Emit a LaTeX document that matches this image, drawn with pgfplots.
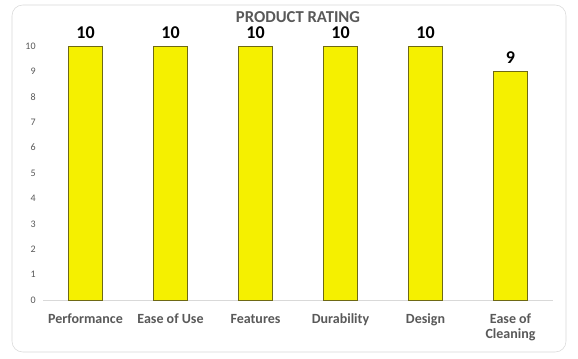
\documentclass[border=0pt]{standalone}
\usepackage{pgfplots}
\pgfplotsset{compat=1.18}
\usepackage{fontspec}
\setmainfont{Carlito}
\definecolor{barfill}{RGB}{245,240,0}
\definecolor{baredge}{RGB}{110,105,20}
\definecolor{txtgray}{RGB}{89,89,89}
\definecolor{framegray}{RGB}{217,217,217}
\begin{document}
\begin{tikzpicture}[x=0.75pt,y=0.75pt]
\path[fill=white] (0,0) rectangle (578,358);
\draw[framegray, rounded corners=8pt] (12,6) rectangle (566,353);
\node[font=\bfseries\fontsize{12.5}{14}\selectfont, text=txtgray] at (298,341) {PRODUCT RATING};
\begin{axis}[
  at={(32.25pt,43.5pt)}, anchor=south west,
  scale only axis, width=382.5pt, height=190.5pt,
  xmin=-0.5, xmax=5.5, ymin=0, ymax=10,
  ybar, bar width=25.5pt,
  axis x line=bottom, axis y line=left,
  x axis line style={draw=framegray, -},
  y axis line style={draw=none},
  major tick length=0pt,
  xtick={0,...,5},
  xticklabels={Performance, Ease of Use, Features, Durability, Design, {Ease of\\Cleaning}},
  xticklabel style={font=\bfseries\fontsize{10.5}{11}\selectfont, text=txtgray, align=center, yshift=-7pt},
  ytick={0,...,10},
  yticklabel style={font=\fontsize{7.5}{8}\selectfont, text=txtgray, xshift=-2pt},
  /pgf/number format/assume math mode=true,
  nodes near coords,
  every node near coord/.append style={font=\bfseries\fontsize{13.5}{14}\selectfont, text=black, yshift=2pt},
  clip=false,
]
\addplot[fill=barfill, draw=baredge, line width=0.6pt] coordinates {(0,10) (1,10) (2,10) (3,10) (4,10) (5,9)};
\end{axis}
\end{tikzpicture}
\end{document}
